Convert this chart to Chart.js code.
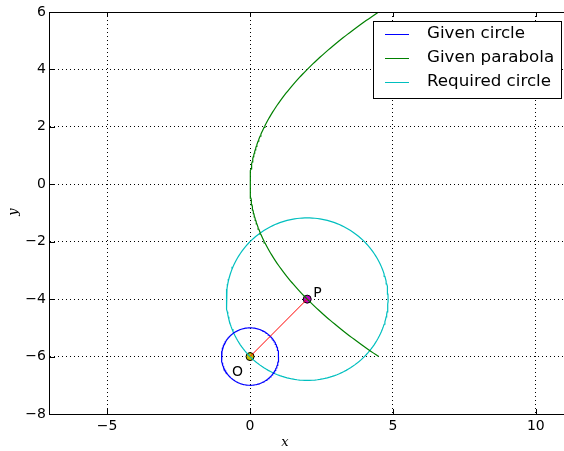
<!DOCTYPE html>
<html>
<head>
<meta charset="utf-8">
<script src="https://cdn.jsdelivr.net/npm/chart.js@4"></script>
<style>
  html, body { margin: 0; padding: 0; background: #fff; overflow: hidden; }
  #wrap { width: 564px; height: 451px; overflow: hidden; }
  #chartContainer { display: block; }
</style>
</head>
<body>
<div id="wrap"><canvas id="chartContainer" width="568" height="451"></canvas></div>
<script>
// axis ticks
var xTicks = [-5, 0, 5, 10];
var yTicks = [-8, -6, -4, -2, 0, 2, 4, 6];

// geometry
var givenCircle = { cx: 0, cy: -6, r: 1 };
var requiredCircle = { cx: 2, cy: -4, r: 2.83 };
var parabolaY = [-6, 6];          // x = y^2 / 8 for y in this range
var pointO = { x: 0, y: -6 };
var pointP = { x: 2, y: -4 };

function circlePts(c) {
	var pts = [];
	for (var i = 0; i <= 200; i++) {
		var t = 2 * Math.PI * i / 200;
		pts.push({ x: c.cx + c.r * Math.cos(t), y: c.cy + c.r * Math.sin(t) });
	}
	return pts;
}
function parabolaPts() {
	var pts = [];
	for (var i = 0; i <= 200; i++) {
		var y = parabolaY[0] + (parabolaY[1] - parabolaY[0]) * i / 200;
		pts.push({ x: y * y / 8, y: y });
	}
	return pts;
}

var legendItems = [
	{ label: 'Given circle', color: '#0000ff' },
	{ label: 'Given parabola', color: '#008000' },
	{ label: 'Required circle', color: '#00bfbf' }
];

function minus(v) { return String(v).replace('-', '\u2212'); }

var decor = {
	id: 'decor',
	afterDatasetsDraw: function (chart) {
		var ctx = chart.ctx, a = chart.chartArea;
		var xs = chart.scales.x, ys = chart.scales.y;
		ctx.save();
		// point labels
		ctx.fillStyle = '#000';
		ctx.font = '14px "DejaVu Sans"';
		ctx.textAlign = 'left';
		ctx.textBaseline = 'alphabetic';
		ctx.fillText('O', xs.getPixelForValue(pointO.x) - 18, ys.getPixelForValue(pointO.y) + 19);
		ctx.fillText('P', xs.getPixelForValue(pointP.x) + 6, ys.getPixelForValue(pointP.y) - 2);
		// frame
		ctx.strokeStyle = '#000';
		ctx.lineWidth = 1;
		ctx.strokeRect(Math.round(a.left) - 0.5, Math.round(a.top) + 0.5, a.right - a.left + 10, a.bottom - a.top);
		// inward ticks
		ctx.beginPath();
		xTicks.forEach(function (v) {
			var px = Math.round(xs.getPixelForValue(v)) + 0.5;
			ctx.moveTo(px, a.bottom); ctx.lineTo(px, a.bottom - 5);
			ctx.moveTo(px, a.top); ctx.lineTo(px, a.top + 5);
		});
		yTicks.forEach(function (v) {
			var py = Math.round(ys.getPixelForValue(v)) + 0.5;
			ctx.moveTo(a.left, py); ctx.lineTo(a.left + 5, py);
		});
		ctx.stroke();
		// legend
		var lx = 373.5, ly = 21.5, lw = 188, lh = 77;
		ctx.fillStyle = '#fff';
		ctx.fillRect(lx, ly, lw, lh);
		ctx.strokeRect(lx, ly, lw, lh);
		ctx.font = '16.7px "DejaVu Sans"';
		ctx.textBaseline = 'middle';
		legendItems.forEach(function (it, i) {
			var y = 34 + i * 24;
			ctx.strokeStyle = it.color;
			ctx.beginPath();
			ctx.moveTo(385, y + 0.5); ctx.lineTo(409, y + 0.5);
			ctx.stroke();
			ctx.fillStyle = '#000';
			ctx.fillText(it.label, 427, y);
		});
		// axis labels
		ctx.font = 'italic 13px "DejaVu Serif"';
		ctx.textAlign = 'center';
		ctx.fillText('x', 285, 443);
		ctx.translate(14, 212);
		ctx.rotate(-Math.PI / 2);
		ctx.fillText('y', 0, 0);
		ctx.restore();
	}
};

var grid = {
	display: true,
	color: '#000',
	lineWidth: 1,
	drawTicks: false
};

new Chart(document.getElementById('chartContainer').getContext('2d'), {
	type: 'scatter',
	data: {
		datasets: [
			{ data: [pointO, pointP], showLine: true, borderColor: '#ff0000', borderWidth: 1, pointRadius: 0 },
			{ data: circlePts(givenCircle), showLine: true, borderColor: '#0000ff', borderWidth: 1.2, pointRadius: 0 },
			{ data: parabolaPts(), showLine: true, borderColor: '#008000', borderWidth: 1.2, pointRadius: 0 },
			{ data: circlePts(requiredCircle), showLine: true, borderColor: '#00bfbf', borderWidth: 1.2, pointRadius: 0 },
			{ data: [pointO], pointRadius: 4, pointBackgroundColor: '#bfbf00', pointBorderColor: '#000', pointBorderWidth: 1 },
			{ data: [pointP], pointRadius: 4, pointBackgroundColor: '#bf00bf', pointBorderColor: '#000', pointBorderWidth: 1 }
		]
	},
	options: {
		responsive: false,
		animation: false,
		layout: { padding: { top: 12, right: 0, left: 0, bottom: 0 } },
		plugins: { legend: { display: false }, tooltip: { enabled: false } },
		scales: {
			x: {
				type: 'linear', min: -7, max: 10.95,
				afterBuildTicks: function (s) { s.ticks = xTicks.map(function (v) { return { value: v }; }); },
				afterFit: function (s) { s.height = 37; s.paddingLeft = 0; s.paddingRight = 0; },
				grid: grid,
				border: { display: false, dash: [1, 3] },
				ticks: { color: '#000', padding: 4, font: { family: 'DejaVu Sans', size: 14 }, callback: minus, maxRotation: 0 }
			},
			y: {
				type: 'linear', min: -8, max: 6,
				afterBuildTicks: function (s) { s.ticks = yTicks.map(function (v) { return { value: v }; }); },
				afterFit: function (s) { s.width = 50; s.paddingTop = 0; s.paddingBottom = 0; },
				grid: grid,
				border: { display: false, dash: [1, 3] },
				ticks: { color: '#000', padding: 4, font: { family: 'DejaVu Sans', size: 14 }, callback: minus }
			}
		}
	},
	plugins: [decor]
});
</script>
</body>
</html>
